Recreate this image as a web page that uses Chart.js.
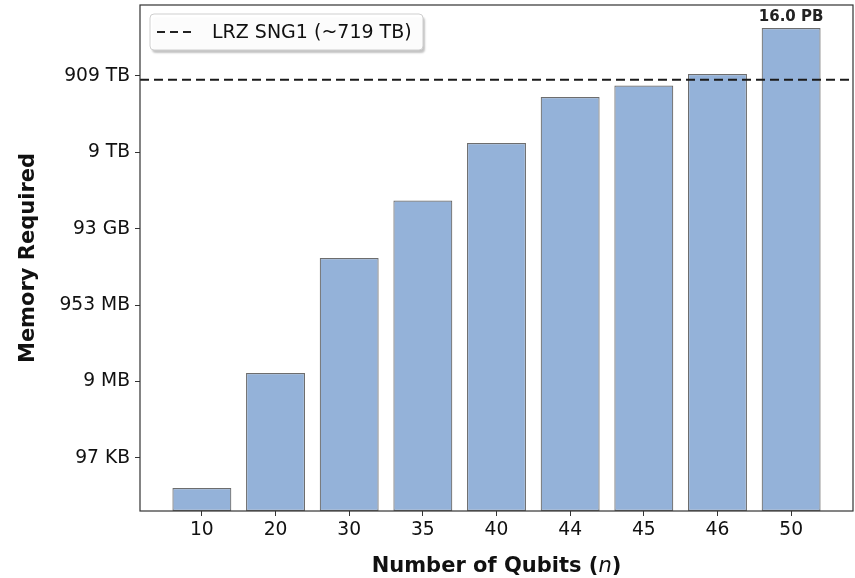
<!DOCTYPE html>
<html>
<head>
<meta charset="utf-8">
<script src="https://cdn.jsdelivr.net/npm/chart.js@4.4.1/dist/chart.umd.min.js"></script>
<style>
  html, body { margin: 0; padding: 0; background: #fff; }
  #chart { display: block; }
</style>
</head>
<body>
<canvas id="chart" width="855" height="578"></canvas>
<script>
const qubits = ['10', '20', '30', '35', '40', '44', '45', '46', '50'];
// bytes for a full state vector (complex128)
const memoryBytes = [16384, 16777216, 17179869184, 549755813888, 17592186044416,
  281474976710656, 562949953421312, 1125899906842624, 18014398509481984];
const lrzLabel = 'LRZ SNG1 (~719 TB)';
const lrzBytes = 790533910380544;
const yTickValues = [1e5, 1e7, 1e9, 1e11, 1e13, 1e15];
const yTickLabels = ['97 KB', '9 MB', '953 MB', '93 GB', '9 TB', '909 TB'];
const peakLabel = '16.0 PB';
const yMin = 4096;
const yMax = 7.2e16;
const xMin = -0.84;
const xMax = 8.84;

const FONT = "'DejaVu Sans', sans-serif";

const decorPlugin = {
  id: 'decor',
  afterDraw(chart) {
    const { ctx, chartArea: a } = chart;
    ctx.save();

    // axes frame
    ctx.strokeStyle = '#333';
    ctx.lineWidth = 1.2;
    ctx.strokeRect(a.left, a.top, a.right - a.left, a.bottom - a.top);

    // label above the tallest bar
    const bars = chart.getDatasetMeta(1).data;
    const last = bars[bars.length - 1];
    ctx.fillStyle = '#222';
    ctx.font = 'bold 15px ' + FONT;
    ctx.textAlign = 'center';
    ctx.textBaseline = 'alphabetic';
    ctx.fillText(peakLabel, last.x, last.y - 7);

    // legend box inside the plot
    const lx = 150, ly = 14, lw = 273, lh = 36;
    ctx.shadowColor = 'rgba(0,0,0,0.25)';
    ctx.shadowOffsetX = 2;
    ctx.shadowOffsetY = 3;
    ctx.shadowBlur = 2;
    ctx.fillStyle = 'rgba(255,255,255,0.95)';
    ctx.beginPath();
    ctx.roundRect(lx, ly, lw, lh, 4);
    ctx.fill();
    ctx.shadowColor = 'transparent';
    ctx.strokeStyle = '#cfcfcf';
    ctx.lineWidth = 1;
    ctx.stroke();

    ctx.strokeStyle = '#222';
    ctx.lineWidth = 2;
    ctx.setLineDash([8, 5]);
    ctx.beginPath();
    ctx.moveTo(157, ly + lh / 2);
    ctx.lineTo(195, ly + lh / 2);
    ctx.stroke();
    ctx.setLineDash([]);

    ctx.fillStyle = '#111';
    ctx.font = '19px ' + FONT;
    ctx.textAlign = 'left';
    ctx.textBaseline = 'middle';
    ctx.fillText(lrzLabel, 212, ly + lh / 2 + 1);

    // y title
    ctx.save();
    ctx.translate(29, (a.top + a.bottom) / 2);
    ctx.rotate(-Math.PI / 2);
    ctx.font = 'bold 21px ' + FONT;
    ctx.textAlign = 'center';
    ctx.textBaseline = 'middle';
    ctx.fillStyle = '#111';
    ctx.fillText('Memory Required', 0, 0);
    ctx.restore();

    // x title with italic n
    const parts = [
      ['Number of Qubits (', 'bold 21px ' + FONT],
      ['n', 'italic 21px ' + FONT],
      [')', 'bold 21px ' + FONT]
    ];
    let total = 0;
    parts.forEach(p => { ctx.font = p[1]; total += ctx.measureText(p[0]).width; });
    let x = (a.left + a.right) / 2 - total / 2;
    ctx.fillStyle = '#111';
    ctx.textAlign = 'left';
    ctx.textBaseline = 'alphabetic';
    parts.forEach(p => {
      ctx.font = p[1];
      ctx.fillText(p[0], x, 572);
      x += ctx.measureText(p[0]).width;
    });

    ctx.restore();
  }
};

new Chart(document.getElementById('chart').getContext('2d'), {
  type: 'bar',
  data: {
    datasets: [{
      type: 'line',
      label: lrzLabel,
      data: [{ x: xMin, y: lrzBytes }, { x: xMax, y: lrzBytes }],
      borderColor: '#1a1a1a',
      borderWidth: 2,
      borderDash: [9, 5],
      pointRadius: 0,
      order: 0
    }, {
      type: 'bar',
      label: 'Memory',
      data: memoryBytes.map((v, i) => ({ x: i, y: v })),
      backgroundColor: '#94b2d9',
      borderColor: 'rgba(60,60,60,0.75)',
      borderWidth: 1.2,
      borderSkipped: false,
      barPercentage: 0.8,
      categoryPercentage: 1.0,
      order: 1
    }]
  },
  options: {
    responsive: false,
    animation: false,
    devicePixelRatio: 1,
    layout: { padding: { top: 5, right: 2, left: 0, bottom: 0 } },
    plugins: {
      legend: { display: false },
      tooltip: { enabled: false }
    },
    scales: {
      x: {
        type: 'linear',
        min: xMin,
        max: xMax,
        offset: false,
        afterBuildTicks: s => { s.ticks = qubits.map((q, i) => ({ value: i })); },
        afterFit: s => { s.height = 67; s.paddingLeft = 0; s.paddingRight = 0; },
        grid: { drawOnChartArea: false, offset: false, tickLength: 5, color: '#333' },
        border: { display: false },
        ticks: {
          autoSkip: false,
          maxRotation: 0,
          padding: 3,
          color: '#111',
          font: { family: FONT, size: 18.7 },
          callback: (v, i) => qubits[i]
        }
      },
      y: {
        type: 'logarithmic',
        min: yMin,
        max: yMax,
        afterBuildTicks: s => { s.ticks = yTickValues.map(v => ({ value: v })); },
        afterFit: s => { s.width = 140; s.paddingTop = 0; s.paddingBottom = 0; },
        grid: { drawOnChartArea: false, tickLength: 5, color: '#333' },
        border: { display: false },
        ticks: {
          autoSkip: false,
          padding: 5,
          color: '#111',
          font: { family: FONT, size: 18.7 },
          callback: (v, i) => yTickLabels[i]
        }
      }
    }
  },
  plugins: [decorPlugin]
});
</script>
</body>
</html>
